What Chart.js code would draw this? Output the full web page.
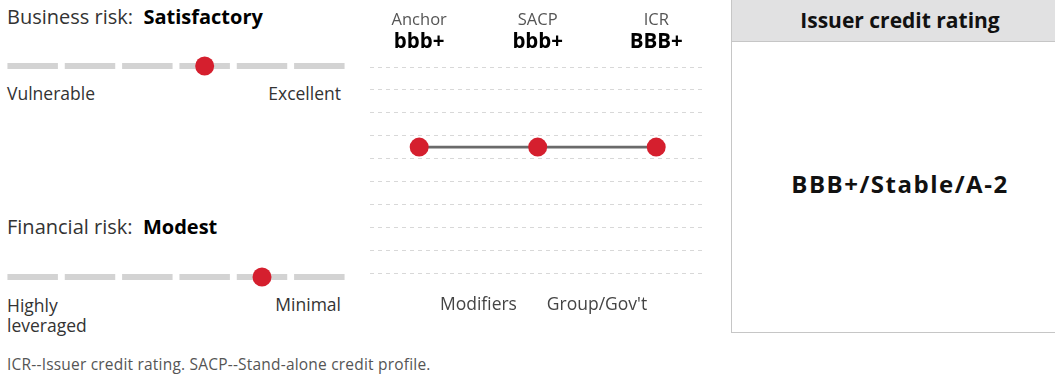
<!DOCTYPE html>
<html>
<head>
<meta charset="utf-8">
<script src="https://cdn.jsdelivr.net/npm/chart.js@4.4.1/dist/chart.umd.min.js"></script>
<style>
  html, body { margin: 0; padding: 0; background: #fff; }
  body { width: 1055px; height: 377px; overflow: hidden; position: relative;
         font-family: "Open Sans", sans-serif; color: #333; }
  .t { position: absolute; white-space: nowrap; line-height: 1; }
  .b { font-weight: bold; color: #000; }
  canvas { position: absolute; }
  #box { position: absolute; left: 731px; top: 0; width: 336px; height: 332px;
         border-left: 1px solid #c6c6c6; border-bottom: 1px solid #c6c6c6; }
  #boxHead { position: absolute; left: 0; top: 0; width: 100%; height: 41px; background: #e1e1e2;
             border-bottom: 1px solid #c6c6c6; }
  .c { position: absolute; left: 0; width: 336px; text-align: center; white-space: nowrap;
       line-height: 1; font-weight: bold; color: #111; }
</style>
</head>
<body>
<div class="t" style="left:7px;top:7px;font-size:20px">Business risk:&nbsp; <span class="b" id="bizScore"></span></div>
<canvas id="bizChart" width="344" height="30" style="left:4px;top:51px"></canvas>
<div class="t" id="bizLo" style="left:7px;top:84.5px;font-size:17.5px"></div>
<div class="t" id="bizHi" style="right:714px;top:84.5px;font-size:17.5px"></div>

<div class="t" style="left:7px;top:217px;font-size:20px">Financial risk:&nbsp; <span class="b" id="finScore"></span></div>
<canvas id="finChart" width="344" height="30" style="left:4px;top:262px"></canvas>
<div class="t" id="finLo" style="left:7px;top:295px;font-size:17.5px;line-height:20px;white-space:normal;width:90px"></div>
<div class="t" id="finHi" style="right:714px;top:296px;font-size:17.5px"></div>

<canvas id="ladder" width="370" height="340" style="left:360px;top:0"></canvas>

<div id="box">
  <div id="boxHead"></div>
  <div class="c" style="top:10px;font-size:21px">Issuer credit rating</div>
  <div class="c" id="icr" style="top:172px;font-size:24px;letter-spacing:1.5px"></div>
</div>

<div class="t" style="left:7px;top:357px;font-size:15.5px;letter-spacing:0.2px;color:#555">ICR--Issuer credit rating. SACP--Stand-alone credit profile.</div>

<script>
// data
const businessLevels = ['Vulnerable', 'Weak', 'Fair', 'Satisfactory', 'Strong', 'Excellent'];
const businessScore = 'Satisfactory';
const financialLevels = ['Highly leveraged', 'Aggressive', 'Significant', 'Intermediate', 'Modest', 'Minimal'];
const financialScore = 'Modest';

const steps = ['Anchor', 'Modifiers', 'SACP', "Group/Gov't", 'ICR'];
const stepRatings = ['bbb+', null, 'bbb+', null, 'BBB+'];
const ratingBands = ['a+', 'a', 'a-', 'bbb+', 'bbb', 'bbb-', 'bb+', 'bb', 'bb-'];
const issuerRating = 'BBB+/Stable/A-2';

const RED = '#d51f2e';
const FONT = 'Open Sans';

// text bits
document.getElementById('bizScore').textContent = businessScore;
document.getElementById('bizLo').textContent = businessLevels[0];
document.getElementById('bizHi').textContent = businessLevels[businessLevels.length - 1];
document.getElementById('finScore').textContent = financialScore;
document.getElementById('finLo').textContent = financialLevels[0];
document.getElementById('finHi').textContent = financialLevels[financialLevels.length - 1];
document.getElementById('icr').textContent = issuerRating;

// slider: grey track per level, red dot on the score
function slider(id, levels, score) {
  new Chart(document.getElementById(id), {
    type: 'bar',
    data: {
      labels: levels,
      datasets: [
        {
          type: 'line',
          data: levels.map(l => (l === score ? 0 : null)),
          showLine: false,
          pointRadius: 9.5,
          pointBackgroundColor: RED,
          pointBorderWidth: 0,
          order: 0
        },
        {
          data: levels.map(() => [-1, 1]),
          backgroundColor: '#d3d3d3',
          barPercentage: 0.88,
          categoryPercentage: 1,
          order: 1
        }
      ]
    },
    options: {
      responsive: false,
      animation: false,
      events: [],
      layout: { padding: 0, autoPadding: false },
      plugins: { legend: { display: false }, tooltip: { enabled: false } },
      scales: {
        x: { display: false },
        y: { display: false, min: -5, max: 5 }
      }
    }
  });
}
slider('bizChart', businessLevels, businessScore);
slider('finChart', financialLevels, financialScore);

// ladder chart
const X_MIN = -0.83, X_MAX = 4.84;
const points = steps
  .map((s, i) => (stepRatings[i] ? { x: i, y: stepRatings[i].toLowerCase() } : null))
  .filter(Boolean);

// step name + rating above each rated step
const topLabels = {
  id: 'topLabels',
  afterDraw(chart) {
    const { ctx, scales: { x } } = chart;
    ctx.save();
    ctx.textAlign = 'center';
    ctx.textBaseline = 'alphabetic';
    steps.forEach((s, i) => {
      if (!stepRatings[i]) return;
      const px = x.getPixelForValue(i);
      ctx.font = '16.5px "' + FONT + '"';
      ctx.fillStyle = '#555';
      ctx.fillText(s, px, 25);
      ctx.font = 'bold 20.5px "' + FONT + '"';
      ctx.fillStyle = '#000';
      ctx.fillText(stepRatings[i], px, 48);
    });
    ctx.restore();
  }
};

new Chart(document.getElementById('ladder'), {
  type: 'line',
  data: {
    datasets: [{
      data: points,
      borderColor: '#6a6a6a',
      borderWidth: 2.6,
      pointRadius: 9.5,
      pointBackgroundColor: RED,
      pointBorderWidth: 0
    }]
  },
  options: {
    responsive: false,
    animation: false,
    events: [],
    layout: { padding: { left: 10, right: 24, top: 67, bottom: 3 }, autoPadding: false },
    plugins: { legend: { display: false }, tooltip: { enabled: false } },
    scales: {
      y: {
        type: 'category', labels: ratingBands, offset: true,
        ticks: { display: false },
        grid: { color: '#d8d8d8', offset: true, drawTicks: false },
        border: { display: false, dash: [4, 4] }
      },
      x: {
        type: 'linear', position: 'bottom', min: X_MIN, max: X_MAX,
        afterBuildTicks: s => { s.ticks = steps.map((_, i) => ({ value: i })); },
        grid: { display: false, drawTicks: false },
        border: { display: false },
        ticks: {
          callback: v => (stepRatings[v] ? '' : steps[v]),
          font: { family: FONT, size: 17.5 }, color: '#444', padding: 21.5,
          autoSkip: false, maxRotation: 0
        }
      }
    }
  },
  plugins: [topLabels]
});
</script>
</body>
</html>
